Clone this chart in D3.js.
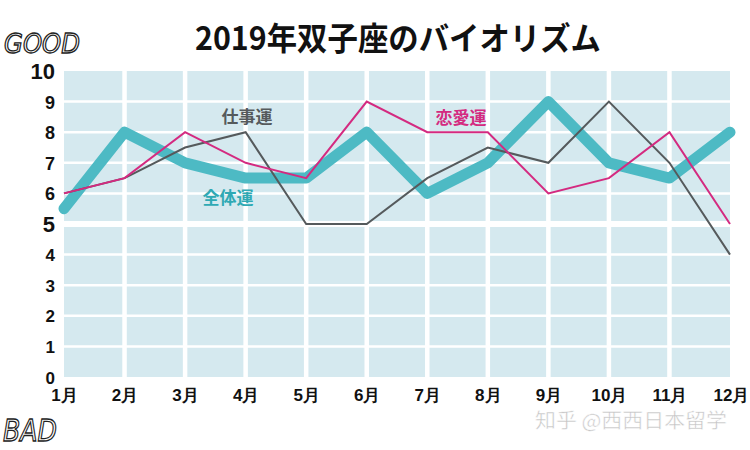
<!DOCTYPE html>
<html><head><meta charset="utf-8">
<script src="https://cdn.jsdelivr.net/npm/d3@7"></script>
<style>body{margin:0;background:#fff;}svg{display:block;}</style>
</head><body>
<svg id="c" width="750" height="450"></svg>
<script>
const months = ["1月","2月","3月","4月","5月","6月","7月","8月","9月","10月","11月","12月"];
const overall = [5.5, 8, 7, 6.5, 6.5, 8, 6, 7, 9, 7, 6.5, 8];   // 全体運
const work    = [6, 6.5, 7.5, 8, 5, 5, 6.5, 7.5, 7, 9, 7, 4];     // 仕事運
const love    = [6, 6.5, 8, 7, 6.5, 9, 8, 8, 6, 6.5, 8, 5];       // 恋愛運
const yTicks  = [0,1,2,3,4,5,6,7,8,9,10];

const svg = d3.select("#c");
const L = 64, R = 730, T = 71, B = 377;
const x = d3.scalePoint().domain(months).range([L, R]);
const y = d3.scaleLinear().domain([0, 10]).range([B, T]);

const jp = "'Noto Sans CJK JP', sans-serif";
const lat = "'Liberation Sans', Arial, sans-serif";

// plot background
svg.append("rect").attr("x", L).attr("y", T).attr("width", R - L).attr("height", B - T).attr("fill", "#d5e9ef");

// horizontal grid
svg.append("g").selectAll("line").data(yTicks.filter(d => d > 0 && d < 10)).join("line")
  .attr("x1", L).attr("x2", R).attr("y1", d => y(d)).attr("y2", d => y(d))
  .attr("stroke", "#fff").attr("stroke-width", d => d === 5 ? 6 : 2.5);
// vertical grid
svg.append("g").selectAll("line").data(months.slice(1, -1)).join("line")
  .attr("x1", d => x(d)).attr("x2", d => x(d)).attr("y1", T).attr("y2", B)
  .attr("stroke", "#fff").attr("stroke-width", 4.5);

// y axis labels
const yAxis = d3.axisLeft(y).tickValues(yTicks).tickSize(0).tickPadding(0).tickFormat(d3.format("d"));
const gy = svg.append("g").attr("transform", `translate(${L - 9},0)`).call(yAxis);
gy.select(".domain").remove();
gy.selectAll("text").attr("font-family", lat).attr("font-weight", "bold").attr("fill", "#111")
  .attr("font-size", d => (d === 10 || d === 5) ? 22 : (d >= 6 ? 18 : 17)).attr("dy", "0.36em");

// x axis labels
const xAxis = d3.axisBottom(x).tickSize(0).tickPadding(0);
const gx = svg.append("g").attr("transform", `translate(0,${B + 11})`).call(xAxis);
gx.select(".domain").remove();
gx.selectAll("text").attr("font-family", lat).attr("font-weight", "bold").attr("fill", "#111")
  .attr("font-size", 17).attr("dy", "0.75em")
  .attr("text-anchor", (d, i) => i === months.length - 1 ? "end" : "middle")
  .attr("dx", (d, i) => i === months.length - 1 ? 19 : 0);

const line = d3.line().x((d, i) => x(months[i])).y(d => y(d));

svg.append("path").datum(overall).attr("d", line).attr("fill", "none")
  .attr("stroke", "#4dbac4").attr("stroke-width", 11).attr("stroke-linejoin", "round").attr("stroke-linecap", "round");
svg.append("path").datum(work).attr("d", line).attr("fill", "none")
  .attr("stroke", "#555a5c").attr("stroke-width", 2);
svg.append("path").datum(love).attr("d", line).attr("fill", "none")
  .attr("stroke", "#d42a80").attr("stroke-width", 2);

// series labels
svg.append("text").attr("x", 247).attr("y", 123).attr("text-anchor", "middle")
  .attr("font-family", jp).attr("font-weight", "bold").attr("font-size", 17).attr("fill", "#555a5c").text("仕事運");
svg.append("text").attr("x", 461).attr("y", 124).attr("text-anchor", "middle")
  .attr("font-family", jp).attr("font-weight", "bold").attr("font-size", 17).attr("fill", "#d42a80").text("恋愛運");
svg.append("text").attr("x", 228).attr("y", 204).attr("text-anchor", "middle")
  .attr("font-family", jp).attr("font-weight", "bold").attr("font-size", 17).attr("fill", "#2fa9b4").text("全体運");

// title
svg.append("text").attr("x", 195).attr("y", 50).attr("textLength", 406).attr("lengthAdjust", "spacingAndGlyphs")
  .attr("font-family", jp).attr("font-weight", "bold").attr("font-size", 32).attr("fill", "#111").text("2019年双子座のバイオリズム");

// GOOD / BAD
svg.append("text").attr("x", 4).attr("y", 53).attr("textLength", 76).attr("lengthAdjust", "spacingAndGlyphs")
  .attr("font-family", "'DejaVu Sans', sans-serif").attr("font-style", "italic").attr("font-weight", "normal")
  .attr("font-size", 26).attr("fill", "none").attr("stroke", "#222").attr("stroke-width", 1.3).text("GOOD");
svg.append("text").attr("x", 3).attr("y", 441).attr("textLength", 54).attr("lengthAdjust", "spacingAndGlyphs")
  .attr("font-family", "'DejaVu Sans', sans-serif").attr("font-style", "italic").attr("font-weight", "normal")
  .attr("font-size", 30).attr("fill", "none").attr("stroke", "#222").attr("stroke-width", 1.3).text("BAD");

// watermark
svg.append("text").attr("x", 535).attr("y", 428).attr("textLength", 192).attr("lengthAdjust", "spacingAndGlyphs")
  .attr("font-family", "'Noto Sans CJK SC', sans-serif").attr("font-size", 20).attr("fill", "#c4c4c4")
  .attr("stroke", "#fff").attr("stroke-width", 0.5).text("知乎 @西西日本留学");
</script>
</body></html>
